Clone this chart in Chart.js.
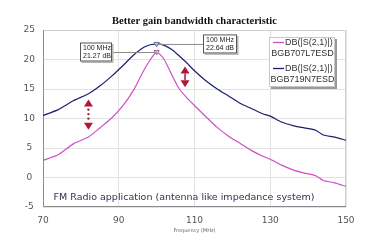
<!DOCTYPE html>
<html><head><meta charset="utf-8">
<script src="https://cdn.jsdelivr.net/npm/chart.js@4/dist/chart.umd.min.js"></script>
<style>html,body{margin:0;padding:0;background:#fff;}#wrap{width:376px;height:241px;}</style>
</head><body><div id="wrap"><canvas id="c" width="376" height="241"></canvas></div>
<script>
const title = "Better gain bandwidth characteristic";
const xTitle = "Frequency (MHz)";
const note = "FM Radio application (antenna like impedance system)";
const freq = [70,74,78,82,85,88,91,94,97,100,102,104,106,108,110,113,116,119,122,125,128,130,133,136,139,142,144,147,150];
const s707 = [2.9,3.85,5.7,6.85,8.4,10.0,12.1,14.9,18.6,21.27,20.0,17.4,15.0,13.5,12.2,10.3,8.5,7.0,5.8,4.6,3.6,3.1,2.1,1.3,0.75,0.3,-0.5,-0.9,-1.5];
const s719 = [10.5,11.5,13.0,14.2,15.5,17.1,18.9,20.8,22.2,22.64,22.4,21.7,20.6,19.4,18.1,16.4,15.0,13.8,12.6,11.7,10.8,10.4,9.4,8.8,8.4,8.0,7.2,6.85,6.3];
const seriesNames = ["DB(|S(2,1)|)", "DB(|S(2,1)|)"];
const deviceNames = ["BGB707L7ESD", "BGB719N7ESD"];
const markerFreq = 100;
const markerLabels = [["100 MHz","21.27 dB"],["100 MHz","22.64 dB"]];
const xTicks = [70,90,110,130,150];
const yTicks = [-5,0,5,10,15,20,25];
// arrow annotations: [freq, up-tip value, down-tip value, dotted]
const arrows = [[82,13.2,8.1,true],[107.5,18.8,15.3,false]];

const colors = ["#cc4fc4","#1c1f6e"];

function pts(vals){ return freq.map((f,i)=>({x:f,y:vals[i]})); }

const overlay = {
  id:'overlay',
  afterDatasetsDraw(chart){
    const ctx = chart.ctx, xs = chart.scales.x, ys = chart.scales.y, a = chart.chartArea;
    ctx.save();
    // title
    ctx.font = "bold 10.5px 'Liberation Serif'";
    ctx.fillStyle = "#111"; ctx.textAlign = "center"; ctx.textBaseline = "middle";
    ctx.fillText(title, (a.left + a.right)/2, 21);
    // note text
    ctx.font = "9.5px 'DejaVu Sans'";
    ctx.fillStyle = "#2b3550";
    ctx.textAlign = "left";
    ctx.fillText(note, xs.getPixelForValue(72.8), ys.getPixelForValue(-3.4));
    // arrows
    ctx.fillStyle = "#b0183a"; ctx.strokeStyle = "#b0183a";
    arrows.forEach(r=>{
      const x = xs.getPixelForValue(r[0]);
      const yt = ys.getPixelForValue(r[1]);
      const yb = ys.getPixelForValue(r[2]);
      ctx.beginPath(); ctx.moveTo(x,yt); ctx.lineTo(x-4.5,yt+7); ctx.lineTo(x+4.5,yt+7); ctx.closePath(); ctx.fill();
      ctx.beginPath(); ctx.moveTo(x,yb); ctx.lineTo(x-4.5,yb-7); ctx.lineTo(x+4.5,yb-7); ctx.closePath(); ctx.fill();
      if (r[3]) {
        for (let y=yt+10; y<yb-9; y+=4.5){ ctx.beginPath(); ctx.arc(x,y,1.2,0,Math.PI*2); ctx.fill(); }
      } else {
        ctx.lineWidth=1.5; ctx.beginPath(); ctx.moveTo(x,yt+7); ctx.lineTo(x,yb-7); ctx.stroke();
      }
    });
    // marker boxes
    const mx = xs.getPixelForValue(markerFreq);
    const vals = [s707[freq.indexOf(markerFreq)], s719[freq.indexOf(markerFreq)]];
    const boxes = [
      {x:80, w:32, side:'left'},
      {x:203, w:34, side:'right'}
    ];
    ctx.font = "7px 'Liberation Sans'";
    ctx.textBaseline="middle"; ctx.textAlign="left";
    vals.forEach((v,i)=>{
      const my = ys.getPixelForValue(v);
      const b = boxes[i];
      const by = my - 9.5, bh = 19;
      ctx.strokeStyle="#8a8a8a"; ctx.lineWidth=1;
      ctx.beginPath();
      if (b.side==='left'){ ctx.moveTo(b.x+b.w, my+0.5); ctx.lineTo(mx, my+0.5); }
      else { ctx.moveTo(mx, my+0.5); ctx.lineTo(b.x, my+0.5); }
      ctx.stroke();
      ctx.fillStyle="#b8b8b8"; ctx.fillRect(b.x+1.5, by+1.5, b.w, bh);
      ctx.fillStyle="#fff"; ctx.fillRect(b.x, by, b.w, bh);
      ctx.strokeStyle="#555"; ctx.strokeRect(b.x+0.5, by+0.5, b.w-1, bh-1);
      ctx.fillStyle="#222";
      ctx.fillText(markerLabels[i][0], b.x+3, by+5.5);
      ctx.fillText(markerLabels[i][1], b.x+3, by+13.5);
    });
    // legend
    const lx=269, ly=37, lw=66, lh=50;
    ctx.fillStyle="#9a9a9a"; ctx.fillRect(lx+2, ly+2, lw, lh);
    ctx.fillStyle="#fff"; ctx.fillRect(lx, ly, lw, lh);
    ctx.strokeStyle="#c8c8c8"; ctx.lineWidth=1; ctx.strokeRect(lx+0.5, ly+0.5, lw-1, lh-1);
    ctx.font = "9px 'Liberation Sans'";
    for (let i=0;i<2;i++){
      const y0 = ly + 5.5 + i*26;
      ctx.strokeStyle = colors[i]; ctx.lineWidth=1.3;
      ctx.beginPath(); ctx.moveTo(lx+4, y0); ctx.lineTo(lx+15, y0); ctx.stroke();
      ctx.fillStyle="#333"; ctx.textAlign="left";
      ctx.fillText(seriesNames[i], lx+16, y0);
      ctx.textAlign="center";
      ctx.fillText(deviceNames[i], lx+lw/2+0.5, y0+11);
    }
    ctx.restore();
  }
};

const borderPlugin = {
  id:'border',
  beforeDatasetsDraw(chart){
    const {ctx, chartArea:a} = chart;
    ctx.save();
    ctx.strokeStyle="#d0d0d0"; ctx.lineWidth=1;
    ctx.beginPath();
    ctx.moveTo(a.left, a.top+0.5); ctx.lineTo(a.right-0.5, a.top+0.5); ctx.lineTo(a.right-0.5, a.bottom);
    ctx.stroke();
    ctx.strokeStyle="#8c8c8c";
    ctx.beginPath();
    ctx.moveTo(a.left+0.5, a.top); ctx.lineTo(a.left+0.5, a.bottom-0.5); ctx.lineTo(a.right, a.bottom-0.5);
    ctx.stroke();
    ctx.restore();
  }
};

new Chart(document.getElementById('c'), {
  type:'line',
  data:{ datasets:[
    {label:deviceNames[0], data:pts(s707), borderColor:colors[0], borderWidth:1.2, tension:0.2, fill:false,
     pointStyle:'triangle', rotation:180, pointBackgroundColor:'#e9c9ea', pointBorderColor:'#9a6aa0', pointBorderWidth:1,
     pointRadius:ctx=>ctx.raw && ctx.raw.x===markerFreq?3:0},
    {label:deviceNames[1], data:pts(s719), borderColor:colors[1], borderWidth:1.2, tension:0.2, fill:false,
     pointStyle:'triangle', rotation:180, pointBackgroundColor:'#c9cde8', pointBorderColor:'#6a6fa0', pointBorderWidth:1,
     pointRadius:ctx=>ctx.raw && ctx.raw.x===markerFreq?3:0}
  ]},
  options:{
    responsive:false, animation:false, devicePixelRatio:1,
    layout:{padding:{left:0,right:30,top:30,bottom:7}},
    plugins:{
      legend:{display:false}, tooltip:{enabled:false}, title:{display:false}
    },
    scales:{
      x:{type:'linear', min:70, max:150,
        afterBuildTicks:s=>{s.ticks = xTicks.map(v=>({value:v}));},
        afterFit:s=>{s.height=27;},
        grid:{color:'#e2e2e2', drawTicks:false, lineWidth:1},
        border:{display:false},
        ticks:{color:'#555', font:{family:"'DejaVu Sans'", size:9}, padding:8, maxRotation:0, autoSkip:false},
        title:{display:true, text:xTitle, color:'#666', font:{family:"'DejaVu Sans'", size:5}, padding:{top:0,bottom:0}}
      },
      y:{min:-5, max:25,
        afterBuildTicks:s=>{s.ticks = yTicks.map(v=>({value:v}));},
        afterFit:s=>{s.width=43;},
        grid:{color:'#e2e2e2', drawTicks:false, lineWidth:1},
        border:{display:false},
        ticks:{color:'#555', font:{family:"'DejaVu Sans'", size:9}, padding:8, crossAlign:'center', autoSkip:false}
      }
    }
  },
  plugins:[borderPlugin, overlay]
});
</script></body></html>
